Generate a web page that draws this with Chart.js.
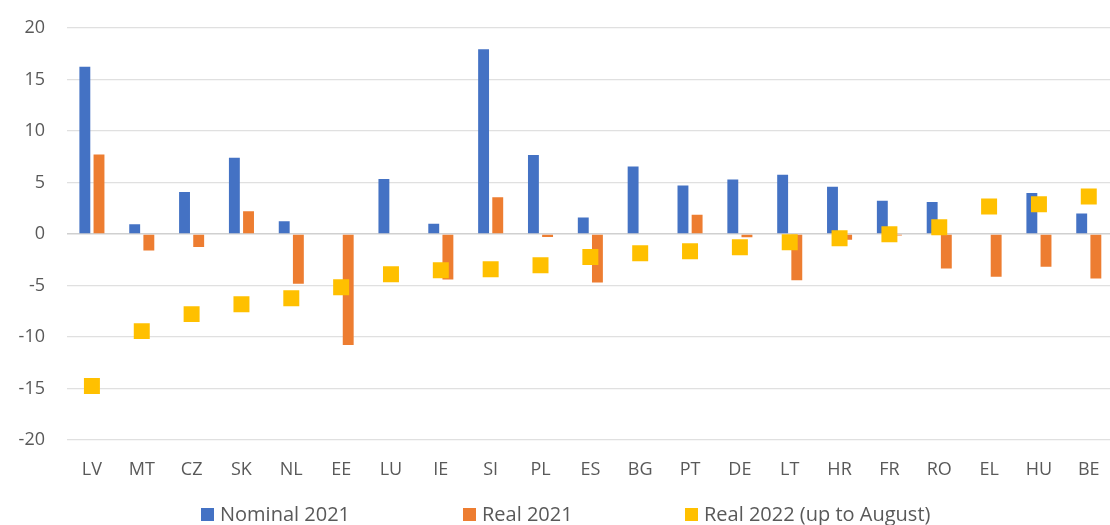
<!DOCTYPE html>
<html>
<head>
<meta charset="utf-8">
<script src="https://cdn.jsdelivr.net/npm/chart.js@4.4.0/dist/chart.umd.min.js"></script>
<style>
  html, body { margin: 0; padding: 0; background: #fff; overflow: hidden; }
  #wrap { position: relative; width: 1110px; height: 525px; overflow: hidden; }
  #chart { position: absolute; left: 0; top: 0; }
  .lg { position: absolute; top: 502px; font: 20px "Open Sans", sans-serif; color: #595959; line-height: 24px; white-space: nowrap; }
  .lg i { position: absolute; left: -19px; top: 5.5px; width: 13px; height: 13px; }
</style>
</head>
<body>
<div id="wrap">
  <canvas id="chart" width="1125" height="525"></canvas>
</div>
<script>
// datos
const categories = ['LV', 'MT', 'CZ', 'SK', 'NL', 'EE', 'LU', 'IE', 'SI', 'PL', 'ES',
  'BG', 'PT', 'DE', 'LT', 'HR', 'FR', 'RO', 'EL', 'HU', 'BE'];
const nominal2021 = [16.25, 0.94, 4.07, 7.4, 1.23, null, 5.33, 1.0, 17.93, 7.66, 1.59,
  6.56, 4.72, 5.3, 5.76, 4.59, 3.23, 3.1, null, 3.97, 1.98];
const real2021 = [7.72, -1.61, -1.26, 2.2, -4.84, -10.78, null, -4.42, 3.56, -0.29, -4.71,
  null, 1.88, -0.32, -4.48, -0.55, -0.15, -3.34, -4.16, -3.18, -4.32];
const real2022 = [-14.76, -9.43, -7.78, -6.81, -6.23, -5.16, -3.9, -3.52, -3.42, -3.03, -2.24,
  -1.87, -1.68, -1.29, -0.8, -0.42, -0.03, 0.65, 2.68, 2.88, 3.65];
const seriesLabels = ['Nominal 2021', 'Real 2021', 'Real 2022 (up to August)'];
const yTicks = [-20, -15, -10, -5, 0, 5, 10, 15, 20];

const colors = ['#4472C4', '#ED7D31', '#FFC000'];
const textColor = '#595959';

const ctx = document.getElementById('chart').getContext('2d');

const data = {
  labels: categories,
  datasets: [
    {
      type: 'line',
      label: seriesLabels[2],
      data: real2022,
      showLine: false,
      pointStyle: 'rect',
      pointRadius: 11.3,
      pointHoverRadius: 11.3,
      pointBackgroundColor: colors[2],
      pointBorderWidth: 0,
      borderColor: colors[2],
      order: 0,
    },
    {
      label: seriesLabels[0],
      data: nominal2021,
      backgroundColor: colors[0],
      order: 1,
    },
    {
      label: seriesLabels[1],
      data: real2021,
      backgroundColor: colors[1],
      order: 1,
    },
  ],
};

const config = {
  type: 'bar',
  data: data,
  options: {
    responsive: false,
    animation: false,
    layout: {
      padding: { left: 18, right: 1, top: 28, bottom: 35 },
    },
    categoryPercentage: 0.568,
    barPercentage: 0.77,
    scales: {
      x: {
        offset: true,
        grid: { display: false, drawTicks: false },
        border: { display: false },
        ticks: {
          color: textColor,
          font: { family: 'Open Sans', size: 18 },
          padding: 19,
          maxRotation: 0,
          minRotation: 0,
          autoSkip: false,
        },
        afterFit: (scale) => {
          scale.height = 50;
          scale.paddingLeft = 0;
          scale.paddingRight = 0;
        },
      },
      y: {
        min: -20,
        max: 20,
        afterBuildTicks: (axis) => {
          axis.ticks = yTicks.map((v) => ({ value: v }));
        },
        border: { display: false },
        grid: {
          drawTicks: false,
          color: (c) => (c.tick && c.tick.value === 0 ? '#D0D0D0' : '#E0E0E0'),
          lineWidth: (c) => (c.tick && c.tick.value === 0 ? 1.6 : 1.2),
        },
        ticks: {
          color: textColor,
          font: { family: 'Open Sans', size: 18 },
          padding: 22,
        },
        afterFit: (scale) => {
          scale.width = 49;
          scale.paddingTop = 0;
          scale.paddingBottom = 0;
        },
      },
    },
    plugins: {
      legend: { display: false },
      tooltip: { enabled: false },
    },
  },
};

const chart = new Chart(ctx, config);

// leyenda en HTML (Excel deja mucho espacio entre elementos)
const legendLeft = [220, 482, 704];
const wrap = document.getElementById('wrap');
seriesLabels.forEach((label, i) => {
  const item = document.createElement('div');
  item.className = 'lg';
  item.style.left = legendLeft[i] + 'px';
  item.innerHTML = '<i style="background:' + colors[i] + '"></i>' + label;
  wrap.appendChild(item);
});
</script>
</body>
</html>
